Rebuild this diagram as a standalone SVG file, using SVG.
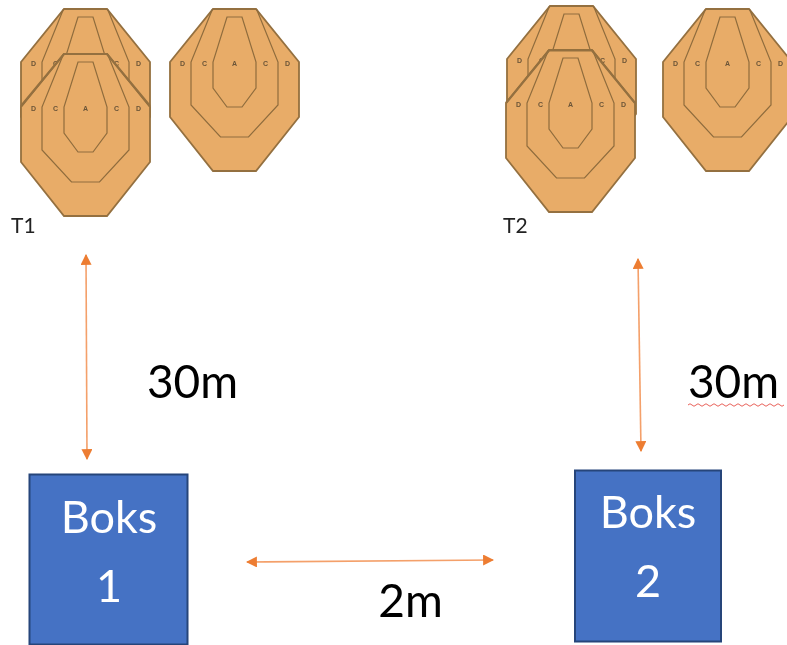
<svg xmlns="http://www.w3.org/2000/svg" xmlns:xlink="http://www.w3.org/1999/xlink" width="787" height="645" viewBox="0 0 787 645">
<style>
.outer{fill:#E8AC68;stroke:#94703F;stroke-width:1.8}
.inner{fill:none;stroke:#8F6C3D;stroke-width:1.2}
.ltr{font:bold 7px "Liberation Sans",sans-serif;fill:#6a5438;text-anchor:middle}
.lbl{font-family:Lato,"Open Sans",sans-serif;font-size:46px;fill:#000;text-anchor:middle}
.box{fill:#4472C4;stroke:#25447A;stroke-width:2}
.boxt{font-family:Lato,"Open Sans",sans-serif;font-size:45px;fill:#fff;text-anchor:middle}
.small{font-family:Lato,"Open Sans",sans-serif;font-size:21px;fill:#222}
.arr{fill:none;stroke:#F4A06A;stroke-width:1.6;marker-start:url(#head);marker-end:url(#head)}
</style>
<defs>
<marker id="head" viewBox="0 0 10 10" refX="9" refY="5" markerWidth="11" markerHeight="11" markerUnits="userSpaceOnUse" orient="auto-start-reverse"><path d="M0 0L10 5L0 10Z" fill="#ED7D31"/></marker>
<filter id="soft" x="-5%" y="-5%" width="110%" height="110%"><feGaussianBlur stdDeviation="0.6"/></filter>
<g id="target">
<path class="outer" d="M-21.500 0H21.500L64.500 53V108L21.500 162H-21.500L-64.500 108V53Z"/>
<path class="inner" d="M-22 0L-43.500 53V96L-14 128H14L43.500 96V53L22 0"/>
<path class="inner" d="M-7.500 8H7.500L21.500 53V79L7.500 98H-7.500L-21.500 79V53Z"/>
<text class="ltr" x="-52" y="56.500">D</text><text class="ltr" x="-30" y="56.500">C</text><text class="ltr" x="0" y="56.500">A</text><text class="ltr" x="31" y="56.500">C</text><text class="ltr" x="53" y="56.500">D</text>
</g>
</defs>
<g filter="url(#soft)">
<g id="t1-back"><use xlink:href="#target" href="#target" transform="translate(85.500 9)"/></g>
<g id="t1-front"><use xlink:href="#target" href="#target" transform="translate(85.500 54)"/><path d="M21 106L64 54H107L150 106" fill="none" stroke="#94703F" stroke-width="2.2"/></g>
<g id="t1-right"><use xlink:href="#target" href="#target" transform="translate(234.500 9)"/></g>
<g id="t2-back"><use xlink:href="#target" href="#target" transform="translate(571.500 6)"/></g>
<g id="t2-front"><use xlink:href="#target" href="#target" transform="translate(570.500 50)"/><path d="M506 103L549 50.500H592L635 103" fill="none" stroke="#94703F" stroke-width="2.2"/></g>
<g id="t2-right"><use xlink:href="#target" href="#target" transform="translate(727.500 9)"/></g>
<text class="small" x="11" y="233">T1</text>
<text class="small" x="503" y="233">T2</text>
<g id="connectors">
<path class="arr" d="M86 255L87 459"/>
<path class="arr" d="M638 259L641 451"/>
<path class="arr" d="M247 562L493 560"/>
</g>
<g id="boks1"><rect class="box" x="29.500" y="474.500" width="158" height="170"/><text class="boxt" x="109" y="533">Boks</text><text class="boxt" x="109" y="602">1</text></g>
<g id="boks2"><rect class="box" x="575" y="470.500" width="146" height="171"/><text class="boxt" x="648" y="528">Boks</text><text class="boxt" x="648" y="597">2</text></g>
<text class="lbl" x="192.500" y="398">30m</text>
<text class="lbl" x="733.500" y="398">30m</text>
<text class="lbl" x="410.500" y="617">2m</text>
<path d="M688 405q2 -2.500 4 0t4 0t4 0t4 0t4 0t4 0t4 0t4 0t4 0t4 0t4 0t4 0t4 0t4 0t4 0t4 0t4 0t4 0t4 0t4 0t4 0t4 0t4 0t4 0" fill="none" stroke="#E8605A" stroke-width="1"/>
</g>
</svg>
